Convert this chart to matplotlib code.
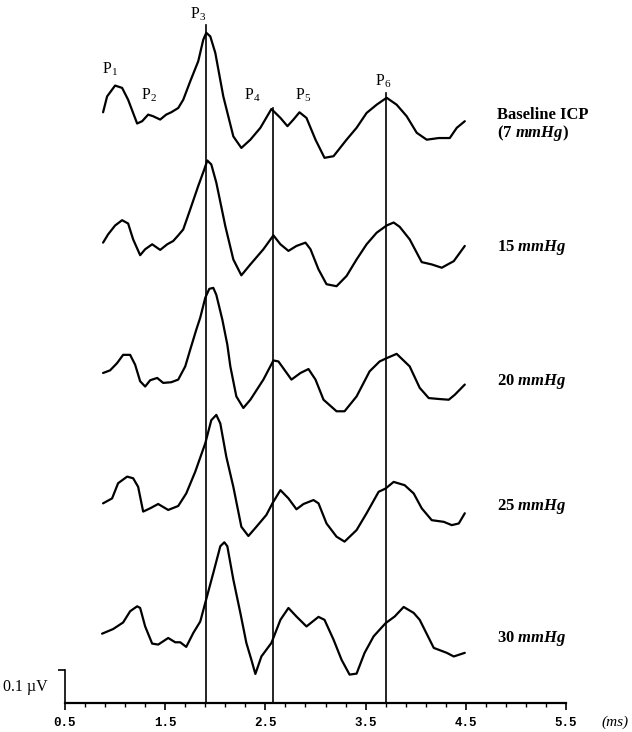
import matplotlib
matplotlib.use("Agg")
from matplotlib import pyplot as plt

plt.rcParams['font.family'] = ['Liberation Serif', 'DejaVu Serif']
plt.rcParams['mathtext.fontset'] = 'custom'
plt.rcParams['mathtext.rm'] = 'Liberation Serif'
plt.rcParams['mathtext.it'] = 'Liberation Serif:italic:bold'

# latency (ms) and amplitude (uV, relative to trace start)
t_base = [0.88, 0.92, 1.00, 1.07, 1.13, 1.22, 1.27, 1.33, 1.38, 1.45, 1.51, 1.56, 1.63, 1.68,
          1.75, 1.83, 1.88, 1.91, 1.95, 2.00, 2.08, 2.18, 2.26, 2.35, 2.45, 2.56, 2.65, 2.72,
          2.78, 2.84, 2.91, 3.00, 3.09, 3.18, 3.31, 3.41, 3.51, 3.61, 3.71, 3.81, 3.91, 4.01,
          4.11, 4.23, 4.34, 4.41, 4.49]
a_base = [0, 0.048, 0.081, 0.074, 0.038, -0.034, -0.027, -0.007, -0.012, -0.022, -0.007, 0,
          0.013, 0.038, 0.094, 0.155, 0.220, 0.241, 0.230, 0.180, 0.048, -0.073, -0.108,
          -0.083, -0.047, 0.010, -0.017, -0.042, -0.022, 0, -0.017, -0.083, -0.138, -0.133,
          -0.083, -0.047, -0.002, 0.023, 0.044, 0.023, -0.012, -0.062, -0.083, -0.078, -0.078,
          -0.047, -0.027]

t_15 = [0.88, 0.93, 1.00, 1.07, 1.13, 1.18, 1.25, 1.30, 1.37, 1.45, 1.52, 1.58, 1.63, 1.68,
        1.75, 1.83, 1.89, 1.92, 1.96, 2.01, 2.10, 2.18, 2.26, 2.35, 2.48, 2.58, 2.65, 2.73,
        2.81, 2.90, 2.95, 3.03, 3.11, 3.21, 3.31, 3.41, 3.51, 3.61, 3.71, 3.78, 3.84, 3.94,
        4.06, 4.16, 4.26, 4.38, 4.49]
a_15 = [0, 0.025, 0.052, 0.068, 0.058, 0.010, -0.038, -0.020, -0.005, -0.022, -0.005, 0.005,
        0.022, 0.040, 0.101, 0.172, 0.222, 0.249, 0.237, 0.182, 0.050, -0.051, -0.099, -0.066,
        -0.020, 0.022, -0.005, -0.025, -0.010, 0, -0.020, -0.081, -0.126, -0.132, -0.101,
        -0.051, -0.005, 0.030, 0.052, 0.061, 0.048, 0.010, -0.059, -0.066, -0.076, -0.056,
        -0.010]

t_20 = [0.88, 0.95, 1.02, 1.08, 1.15, 1.20, 1.25, 1.30, 1.35, 1.42, 1.48, 1.56, 1.63, 1.70,
        1.75, 1.81, 1.85, 1.90, 1.94, 1.98, 2.01, 2.07, 2.12, 2.15, 2.21, 2.28, 2.35, 2.48,
        2.58, 2.63, 2.76, 2.85, 2.93, 3.00, 3.08, 3.21, 3.29, 3.41, 3.54, 3.64, 3.71, 3.81,
        3.94, 4.04, 4.13, 4.24, 4.33, 4.39, 4.49]
a_20 = [0, 0.008, 0.030, 0.055, 0.055, 0.025, -0.025, -0.041, -0.022, -0.015, -0.030, -0.028,
        -0.020, 0.020, 0.071, 0.131, 0.168, 0.228, 0.255, 0.258, 0.237, 0.162, 0.086, 0.020,
        -0.071, -0.106, -0.081, -0.020, 0.038, 0.035, -0.020, 0, 0.012, -0.020, -0.081,
        -0.116, -0.116, -0.071, 0.005, 0.035, 0.045, 0.058, 0.020, -0.045, -0.076, -0.079,
        -0.081, -0.066, -0.035]

t_25 = [0.88, 0.97, 1.03, 1.12, 1.18, 1.23, 1.28, 1.35, 1.43, 1.53, 1.63, 1.71, 1.80, 1.90,
        1.96, 2.01, 2.05, 2.11, 2.18, 2.26, 2.33, 2.41, 2.51, 2.57, 2.65, 2.73, 2.81, 2.88,
        2.98, 3.03, 3.11, 3.21, 3.29, 3.41, 3.51, 3.63, 3.70, 3.78, 3.89, 3.98, 4.06, 4.16,
        4.28, 4.36, 4.43, 4.49]
a_25 = [0, 0.015, 0.061, 0.081, 0.076, 0.050, -0.025, -0.015, -0.002, -0.020, -0.008, 0.030,
        0.096, 0.182, 0.252, 0.268, 0.242, 0.141, 0.050, -0.071, -0.099, -0.071, -0.035, 0,
        0.040, 0.015, -0.018, -0.002, 0.010, 0, -0.061, -0.101, -0.116, -0.081, -0.030,
        0.035, 0.045, 0.065, 0.055, 0.030, -0.015, -0.051, -0.056, -0.066, -0.061, -0.030]

t_30 = [0.87, 0.98, 1.08, 1.15, 1.22, 1.25, 1.30, 1.37, 1.43, 1.53, 1.60, 1.65, 1.71, 1.78,
        1.85, 1.91, 1.98, 2.05, 2.09, 2.12, 2.18, 2.25, 2.31, 2.36, 2.40, 2.46, 2.56, 2.65,
        2.73, 2.81, 2.91, 3.03, 3.09, 3.18, 3.26, 3.34, 3.41, 3.49, 3.58, 3.70, 3.79, 3.88,
        3.98, 4.04, 4.18, 4.31, 4.38, 4.49]
a_30 = [0, 0.014, 0.034, 0.068, 0.083, 0.078, 0.022, -0.030, -0.033, -0.013, -0.026, -0.026,
        -0.040, 0.002, 0.037, 0.105, 0.184, 0.265, 0.277, 0.265, 0.164, 0.063, -0.028, -0.079,
        -0.122, -0.069, -0.028, 0.042, 0.078, 0.052, 0.022, 0.051, 0.042, -0.018, -0.079,
        -0.124, -0.121, -0.058, -0.008, 0.032, 0.052, 0.081, 0.063, 0.042, -0.043, -0.058,
        -0.069, -0.058]

traces = [(t_base, a_base), (t_15, a_15), (t_20, a_20), (t_25, a_25), (t_30, a_30)]
trace_labels = [r'Baseline ICP' + '\n' + r'(7 $\mathit{mmHg}$)', r'15 $\mathit{mmHg}$',
                r'20 $\mathit{mmHg}$', r'25 $\mathit{mmHg}$', r'30 $\mathit{mmHg}$']

# latencies of the marked peaks (ms)
peak_names = ['P$_\\mathrm{1}$', 'P$_\\mathrm{2}$', 'P$_\\mathrm{3}$',
              'P$_\\mathrm{4}$', 'P$_\\mathrm{5}$', 'P$_\\mathrm{6}$']
marker_lat = [1.91, 2.58, 3.70]
marker_top = [2.055, 1.803, 1.848]

fig = plt.figure(figsize=(6.32, 7.32), dpi=100)
ax = fig.add_axes([0, 0, 1, 1])
ax.set_xlim(-0.1487, 6.1587)
ax.set_ylim(-0.0879, 2.1303)

offsets = [1.79, 1.395, 1.0, 0.605, 0.21]
for (t, a), off in zip(traces, offsets):
    ax.plot(t, [v + off for v in a], color='black', lw=1.6,
            solid_joinstyle='round', solid_capstyle='round')

for x, top in zip(marker_lat, marker_top):
    ax.plot([x, x], [0, top], color='black', lw=1.2)

label_pos = [(0.949, 1.921), (1.338, 1.842), (1.827, 2.088),
             (2.366, 1.842), (2.875, 1.842), (3.674, 1.885)]
for name, (x, y) in zip(peak_names, label_pos):
    ax.text(x, y, name, fontsize=11.5, ha='center', va='center')

label_y = [1.75, 1.379, 0.973, 0.594, 0.194]
for lab, y in zip(trace_labels, label_y):
    ax.text(4.81, y, lab, fontsize=12, fontweight='bold', ha='left', va='center',
            linespacing=1.0)

# axis and scale bar
for s in ['top', 'right']:
    ax.spines[s].set_visible(False)
ax.spines['bottom'].set_position(('data', 0))
ax.spines['bottom'].set_bounds(0.5, 5.5)
ax.spines['bottom'].set_linewidth(1.6)
ax.spines['left'].set_position(('data', 0.5))
ax.spines['left'].set_bounds(0, 0.1)
ax.spines['left'].set_linewidth(1.2)

ax.set_xticks([0.5, 1.5, 2.5, 3.5, 4.5, 5.5])
ax.set_xticks([0.7 + 0.2 * i for i in range(24) if round(0.7 + 0.2 * i, 1) not in
               (1.5, 2.5, 3.5, 4.5)], minor=True)
ax.set_xticklabels(['0.5', '1.5', '2.5', '3.5', '4.5', '5.5'],
                   family='Liberation Mono', fontweight='bold', fontsize=9)
ax.tick_params(axis='x', which='major', direction='out', length=5, width=1.2, pad=5)
ax.tick_params(axis='x', which='minor', direction='out', length=3, width=1.0)
ax.set_yticks([0.1])
ax.set_yticklabels([''])
ax.tick_params(axis='y', direction='out', length=5, width=1.2)

ax.text(0.33, 0.048, '0.1 \u00b5V', fontsize=11.5, ha='right', va='center')
ax.text(5.99, -0.058, '(ms)', fontsize=11, style='italic', ha='center', va='center')

fig.savefig('out.png', dpi=100)
